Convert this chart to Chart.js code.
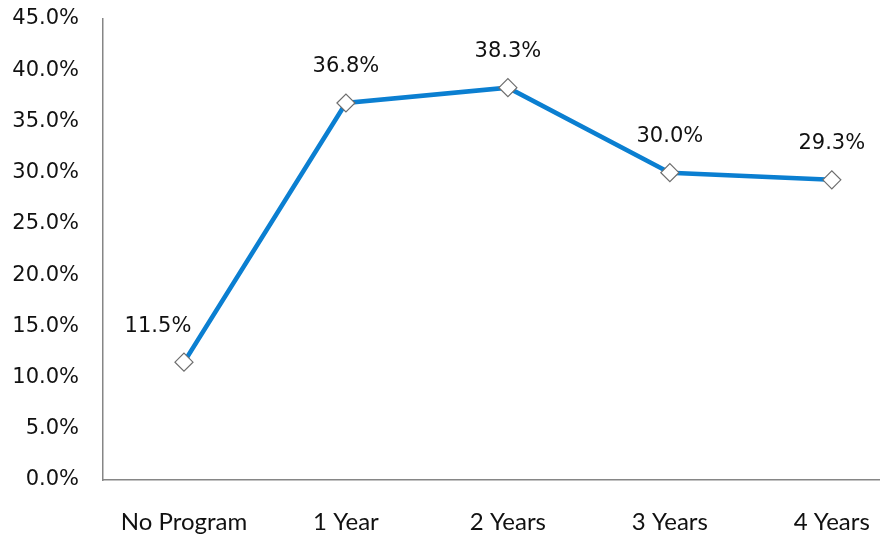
<!DOCTYPE html>
<html>
<head>
<meta charset="utf-8">
<title>Program length</title>
<script src="https://cdn.jsdelivr.net/npm/chart.js@4/dist/chart.umd.min.js"></script>
<style>
  html, body { margin: 0; padding: 0; background: #fff; overflow: hidden; }
  #wrap { width: 923px; height: 538px; position: relative; }
</style>
</head>
<body>
<div id="wrap"><canvas id="myChart"></canvas></div>
<script>
const categories = ['No Program', '1 Year', '2 Years', '3 Years', '4 Years'];
const rates = [11.5, 36.8, 38.3, 30.0, 29.3];
const yTicks = [0, 5, 10, 15, 20, 25, 30, 35, 40, 45];

const tickFont = { family: 'DejaVu Sans', size: 21 };

// value labels over each point (first one sits up and to the left)
const valueLabels = {
  id: 'valueLabels',
  afterDatasetsDraw(chart) {
    const ctx = chart.ctx;
    const meta = chart.getDatasetMeta(0);
    ctx.save();
    ctx.font = '21px "DejaVu Sans"';
    ctx.fillStyle = '#111';
    ctx.textAlign = 'center';
    ctx.textBaseline = 'middle';
    meta.data.forEach((pt, i) => {
      const dx = i === 0 ? -26 : 0;
      ctx.fillText(rates[i].toFixed(1) + '%', pt.x + dx, pt.y - 36);
    });
    ctx.restore();
  }
};

const ctx = document.getElementById('myChart');
const chart = new Chart(ctx, {
  type: 'line',
  data: {
    labels: categories,
    datasets: [{
      data: rates,
      borderColor: '#0b7fd1',
      borderWidth: 4.5,
      pointStyle: 'rectRot',
      pointRadius: 9,
      pointBackgroundColor: '#fff',
      pointBorderColor: '#6e6e6e',
      pointBorderWidth: 1.2,
      tension: 0,
    }]
  },
  options: {
    responsive: true,
    maintainAspectRatio: false,
    animation: false,
    layout: { padding: { top: 19, left: 0, right: 0, bottom: 0 } },
    plugins: {
      legend: { display: false },
      tooltip: { enabled: false }
    },
    scales: {
      x: {
        offset: true,
        grid: { display: false, drawTicks: false },
        border: { color: '#868686', width: 1.5 },
        ticks: {
          color: '#111',
          font: { family: 'Lato', size: 24 },
          padding: 28,
          maxRotation: 0,
        },
        afterFit: s => {
          s.height = 58;
          s.paddingLeft = 0;
          s.paddingRight = 0;
        }
      },
      y: {
        min: 0,
        max: 45,
        afterBuildTicks: s => { s.ticks = yTicks.map(v => ({ value: v })); },
        grid: { display: false, drawTicks: false },
        border: { color: '#868686', width: 1.5 },
        ticks: {
          color: '#111',
          font: tickFont,
          padding: 24,
          callback: v => v.toFixed(1) + '%'
        },
        afterFit: s => {
          s.width = 103;
          s.paddingTop = 0;
          s.paddingBottom = 0;
        }
      }
    }
  },
  plugins: [valueLabels]
});
</script>
</body>
</html>
